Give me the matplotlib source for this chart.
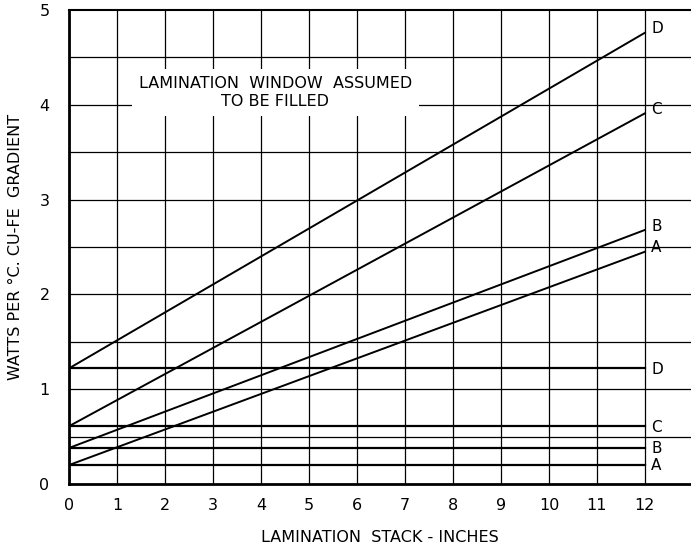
import matplotlib.pyplot as plt
import numpy as np

# Lamination stack (inches) at the ends of each curve
stack_in = [0, 12]

# Sloped curves: watts per deg C at stack = 0 and stack = 12
sloped = {
    "D": [1.22, 4.76],
    "C": [0.61, 3.91],
    "B": [0.38, 2.68],
    "A": [0.20, 2.45],
}

# Flat curves: constant watts per deg C
flat = {
    "D": 1.22,
    "C": 0.61,
    "B": 0.38,
    "A": 0.20,
}

x_ticks = list(range(13))
x_tick_labels = [str(v) for v in x_ticks]
y_ticks = [0, 1, 2, 3, 4, 5]

fig = plt.figure(figsize=(6.91, 5.49), dpi=100)
ax = fig.add_axes([0.0999, 0.1184, 0.9001, 0.8634])

# Grid: verticals at every inch up to 12, horizontals every 0.5 across
for xv in x_ticks:
    ax.axvline(xv, color="black", lw=0.9, zorder=1)
for yv in np.arange(0.5, 5.0, 0.5):
    ax.axhline(yv, color="black", lw=0.9, zorder=1)

# Curves
for name, ys in sloped.items():
    ax.plot(stack_in, ys, color="black", lw=1.4, zorder=3)
    ax.text(12.13, ys[1] + 0.04, name, ha="left", va="center", fontsize=11)

for name, yv in flat.items():
    ax.plot(stack_in, [yv, yv], color="black", lw=1.6, zorder=3)
    ax.text(12.13, yv - 0.01, name, ha="left", va="center", fontsize=11)

# Note box
ax.text(4.3, 4.13, "LAMINATION  WINDOW  ASSUMED\nTO BE FILLED",
        ha="center", va="center", fontsize=11.5, linespacing=1.2,
        bbox=dict(facecolor="white", edgecolor="none", pad=5), zorder=4)

ax.set_xlim(0, 12.96)
ax.set_ylim(0, 5)
ax.set_xticks(x_ticks)
ax.set_xticklabels(x_tick_labels)
ax.set_yticks(y_ticks)
ax.tick_params(length=0, labelsize=11.5)
ax.tick_params(axis="y", pad=14)
ax.tick_params(axis="x", pad=10)

ax.spines["right"].set_visible(False)
ax.spines["left"].set_linewidth(2.0)
ax.spines["bottom"].set_linewidth(2.0)
ax.spines["top"].set_linewidth(1.5)

ax.set_xlabel("LAMINATION  STACK - INCHES", fontsize=11.5, labelpad=12)
ax.set_ylabel("WATTS PER °C. CU-FE  GRADIENT", fontsize=11.5, labelpad=12)

fig.savefig("out.png", dpi=100)
